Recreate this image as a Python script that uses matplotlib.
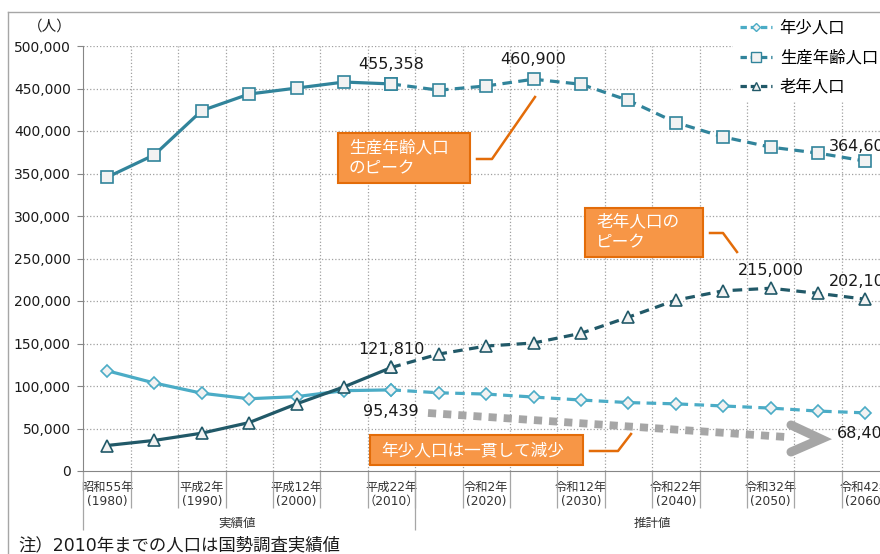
import matplotlib.pyplot as plt
from matplotlib.lines import Line2D
from matplotlib.patches import Rectangle
from matplotlib.ticker import FuncFormatter

plt.rcParams['font.family'] = ['DejaVu Sans', 'Noto Sans CJK JP']

# データ（1980年～2060年、5年ごと）
years = [1980, 1985, 1990, 1995, 2000, 2005, 2010, 2015, 2020,
         2025, 2030, 2035, 2040, 2045, 2050, 2055, 2060]
young = [118000, 103500, 91500, 85000, 87500, 94500, 95439, 92000, 90500,
         87000, 83500, 80500, 79000, 76500, 74000, 70500, 68400]
working = [345500, 372000, 424000, 443500, 450500, 457600, 455358, 448000, 453000,
           460900, 455000, 436000, 410000, 393000, 381000, 374000, 364600]
elderly = [30000, 36000, 44500, 57000, 79000, 99000, 121810, 137600, 147000,
           150600, 162000, 181000, 201000, 212000, 215000, 209000, 202100]

names = ['年少人口', '生産年齢人口', '老年人口']
colors = ['#4BACC6', '#31849B', '#215968']
markers = ['D', 's', '^']
msizes = [6, 9, 8.5]

tick_idx = [0, 2, 4, 6, 8, 10, 12, 14, 16]
tick_labels = ['昭和55年\n(1980)', '平成2年\n(1990)', '平成12年\n(2000)', '平成22年\n（2010）',
               '令和2年\n(2020)', '令和12年\n(2030)', '令和22年\n(2040)', '令和32年\n(2050)',
               '令和42年\n(2060)']
split = 6  # 2010年まで実績値

W, H = 880, 554
fig = plt.figure(figsize=(W / 100, H / 100), dpi=100)
ax = fig.add_axes([83.3 / W, 83 / H, 17 * 47.4 / W, 425 / H])

x = list(range(len(years)))
for vals, c, m, ms in zip([young, working, elderly], colors, markers, msizes):
    kw = dict(color=c, lw=2.3, marker=m, ms=ms, mfc='#F2F2F2', mec=c, mew=1.2, zorder=3)
    ax.plot(x[:split + 1], vals[:split + 1], ls='-', **kw)
    ax.plot(x[split:], vals[split:], ls=(0, (3, 2)), **kw)

ax.set_xlim(-0.5, len(years) - 0.5)
ax.set_ylim(0, 500000)
ax.set_yticks(range(0, 500001, 50000))
ax.yaxis.set_major_formatter(FuncFormatter(lambda v, p: f'{int(v):,}'))
ax.tick_params(axis='y', labelsize=10, length=4, color='#868686', pad=5, labelcolor='#1a1a1a')
ax.set_xticks(tick_idx)
ax.set_xticklabels(tick_labels, fontsize=8.8, linespacing=1.1, color='#333333')
ax.tick_params(axis='x', length=0, pad=7)

for s in ['top', 'right']:
    ax.spines[s].set_visible(False)
for s in ['left', 'bottom']:
    ax.spines[s].set_color('#868686')

for v in range(50000, 500001, 50000):
    ax.axhline(v, color='#A0A0A0', lw=0.9, ls=':', zorder=1)
for i in range(len(years) - 1):
    ax.axvline(i + 0.5, color='#A0A0A0', lw=0.9, ls=':', zorder=1)

# 軸下の区切り線
xt = ax.get_xaxis_transform()
bounds = [i + 0.5 for i in range(len(years) - 1)]
ax.vlines(bounds, -37 / 425, 0, transform=xt, colors='#A6A6A6', lw=0.9, clip_on=False)
ax.vlines([-0.5, split + 0.5], -59 / 425, 0, transform=xt, colors='#A6A6A6', lw=0.9, clip_on=False)
ax.text((split - 0.5) / 2, -52 / 425, '実績値', transform=xt, ha='center', va='center',
        fontsize=9, color='#333333')
ax.text((split + 0.5 + len(years) - 0.5) / 2, -52 / 425, '推計値', transform=xt, ha='center',
        va='center', fontsize=9, color='#333333')

# データラベル
lab = dict(fontsize=11.5, color='#1a1a1a', textcoords='offset points', va='center')
ax.annotate('455,358', (6, working[6]), xytext=(0, 14), ha='center', **lab)
ax.annotate('460,900', (9, working[9]), xytext=(0, 14), ha='center', **lab)
ax.annotate('364,600', (16, working[16]), xytext=(-26.6, 10.8), ha='left', **lab)
ax.annotate('215,000', (14, elderly[14]), xytext=(0, 13), ha='center', **lab)
ax.annotate('202,100', (16, elderly[16]), xytext=(-26.6, 12.4), ha='left', **lab)
ax.annotate('121,810', (6, elderly[6]), xytext=(0, 12.6), ha='center', **lab)
ax.annotate('95,439', (6, young[6]), xytext=(19.3, -15.8), ha='right', **lab)
ax.annotate('68,400', (16, young[16]), xytext=(-20.5, -15), ha='left', **lab)

# 注釈レイヤー（ピクセル座標）
ov = fig.add_axes([0, 0, 1, 1])
ov.set_xlim(0, W)
ov.set_ylim(H, 0)
ov.axis('off')
ov.patch.set_alpha(0)

ov.plot([8, W], [12, 12], color='#A6A6A6', lw=1)
ov.plot([8, 8], [12, H], color='#A6A6A6', lw=1)
ov.text(50, 26, '（人）', ha='center', va='center', fontsize=10.5, color='#1a1a1a')

orange, orange_dk = '#F79646', '#E36C09'
boxes = [((338, 133, 132, 50), '生産年齢人口\nのピーク', 349, 158),
         ((585, 208, 118, 49), '老年人口の\nピーク', 596, 232),
         ((370, 435, 213, 30), '年少人口は一貫して減少', 381, 450)]
for (bx, by, bw, bh), t, tx, ty in boxes:
    ov.add_patch(Rectangle((bx, by), bw, bh, fc=orange, ec=orange_dk, lw=1.5, zorder=4))
    ov.text(tx, ty, t, ha='left', va='center', color='white', fontsize=12,
            linespacing=1.25, zorder=5)
ov.plot([477, 492, 535], [159, 159, 97], color=orange_dk, lw=1.8)
ov.plot([710, 723, 737], [233, 233, 252], color=orange_dk, lw=1.8)
ov.plot([590, 618, 631], [451, 451, 434], color=orange_dk, lw=1.8)

# 減少傾向の矢印
ov.plot([428, 786], [413, 437], color='#A6A6A6', lw=5.6, ls=(0, (1.05, 0.9)),
        dash_capstyle='butt')
ov.plot([791, 821, 791], [425, 439, 452], color='#A6A6A6', lw=6.5,
        solid_capstyle='round', solid_joinstyle='miter')

ov.text(18, 545, '注）2010年までの人口は国勢調査実績値', ha='left', va='center', fontsize=12.5,
        color='#1a1a1a')

handles = [Line2D([], [], color=c, lw=2.3, ls=(0, (2, 1.2)), marker=m, ms=ms * 0.75,
                  mfc='#F2F2F2', mec=c, mew=1.0)
           for c, m, ms in zip(colors, markers, msizes)]
fig.legend(handles, names, loc='upper left', bbox_to_anchor=(733 / W, 1 - 14 / H),
           fontsize=11.8, frameon=True, facecolor='white', edgecolor='none', framealpha=1,
           handlelength=2.0, handletextpad=0.45, labelspacing=0.85, borderpad=0.4,
           borderaxespad=0)

fig.savefig('out.png', dpi=100)
